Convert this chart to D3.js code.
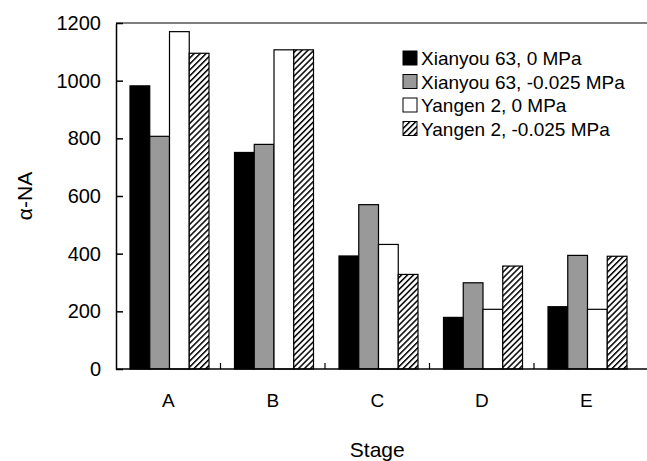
<!DOCTYPE html>
<html>
<head>
<meta charset="utf-8">
<script src="https://cdn.jsdelivr.net/npm/d3@7"></script>
<style>
  body { margin: 0; background: #fff; }
  text { font-family: "Liberation Sans", Arial, sans-serif; fill: #000; }
</style>
</head>
<body>
<div id="chart"></div>
<script>
const stages = ['A', 'B', 'C', 'D', 'E'];
const seriesNames = ['Xianyou 63, 0 MPa', 'Xianyou 63, -0.025 MPa', 'Yangen 2, 0 MPa', 'Yangen 2, -0.025 MPa'];
const xianyou0 = [982, 751, 392, 179, 216];
const xianyou025 = [807, 779, 570, 299, 394];
const yangen0 = [1170, 1107, 432, 207, 207];
const yangen025 = [1095, 1107, 328, 357, 391];
const yTicks = [0, 200, 400, 600, 800, 1000, 1200];

const width = 647, height = 461;
const margin = { top: 23, right: 8, bottom: 92, left: 116 };
const fills = ['#000', '#999', '#fff', 'url(#hatch)'];
const allSeries = [xianyou0, xianyou025, yangen0, yangen025];

const svg = d3.select('#chart').append('svg')
    .attr('width', width)
    .attr('height', height);

// hatch pattern for last series
const pat = svg.append('defs').append('pattern')
    .attr('id', 'hatch')
    .attr('patternUnits', 'userSpaceOnUse')
    .attr('width', 4.2)
    .attr('height', 4.2)
    .attr('patternTransform', 'rotate(45)');
pat.append('rect').attr('width', 4.2).attr('height', 4.2).attr('fill', '#fff');
pat.append('line')
    .attr('x1', 0).attr('y1', 0).attr('x2', 0).attr('y2', 4.2)
    .attr('stroke', '#000').attr('stroke-width', 3);

const plotW = 5 * 104.5;
const x = d3.scaleBand().domain(stages).range([margin.left, margin.left + plotW]).paddingInner(0).paddingOuter(0);
const xs = d3.scaleBand().domain(d3.range(4)).range([14, 14 + 79]);
const y = d3.scaleLinear().domain([0, 1200]).range([height - margin.bottom, margin.top]);

const groups = svg.selectAll('.grp')
    .data(stages)
    .enter()
    .append('g')
        .attr('class', 'grp')
        .attr('transform', d => 'translate(' + x(d) + ',0)');

groups.selectAll('rect')
    .data((d, i) => allSeries.map((s, k) => ({ k: k, v: s[i] })))
    .enter()
    .append('rect')
        .attr('x', d => xs(d.k))
        .attr('width', xs.bandwidth())
        .attr('y', d => y(d.v))
        .attr('height', d => y(0) - y(d.v))
        .attr('fill', d => fills[d.k])
        .attr('stroke', '#000')
        .attr('stroke-width', 1.2);

// y axis, ticks pointing inside
const yAxis = svg.append('g')
    .attr('transform', 'translate(' + margin.left + ',0)')
    .call(d3.axisRight(y).tickValues(yTicks).tickSize(7).tickSizeOuter(0).tickFormat(d3.format('d')));
yAxis.select('.domain').attr('stroke-width', 1.5);
yAxis.selectAll('.tick line').attr('stroke-width', 1.5);
yAxis.selectAll('text')
    .attr('x', -15)
    .attr('text-anchor', 'end')
    .style('font-size', '20px');

// x axis with category ticks at boundaries
const x0 = y(0);
svg.append('line')
    .attr('x1', margin.left).attr('x2', width)
    .attr('y1', x0).attr('y2', x0)
    .attr('stroke', '#000').attr('stroke-width', 1.5);
svg.append('line')
    .attr('x1', margin.left).attr('x2', width)
    .attr('y1', margin.top).attr('y2', margin.top)
    .attr('stroke', '#000').attr('stroke-width', 1.2);
svg.selectAll('.xtick')
    .data(stages.slice(1))
    .enter()
    .append('line')
        .attr('class', 'xtick')
        .attr('x1', d => x(d)).attr('x2', d => x(d))
        .attr('y1', x0).attr('y2', x0 - 6)
        .attr('stroke', '#000').attr('stroke-width', 1.2);
svg.selectAll('.xlab')
    .data(stages)
    .enter()
    .append('text')
        .attr('class', 'xlab')
        .attr('x', d => x(d) + x.bandwidth() / 2)
        .attr('y', x0 + 38)
        .attr('text-anchor', 'middle')
        .style('font-size', '19px')
        .text(d => d);

svg.append('text')
    .attr('x', x('C') + x.bandwidth() / 2)
    .attr('y', 457)
    .attr('text-anchor', 'middle')
    .style('font-size', '21px')
    .text('Stage');

svg.append('text')
    .attr('transform', 'translate(32,' + y(600) + ') rotate(-90)')
    .attr('text-anchor', 'middle')
    .style('font-size', '21px')
    .text('α-NA');

// legend
const legend = svg.selectAll('.leg')
    .data(seriesNames)
    .enter()
    .append('g')
        .attr('class', 'leg')
        .attr('transform', (d, i) => 'translate(403,' + (51 + i * 23.5) + ')');
legend.append('rect')
    .attr('width', 14).attr('height', 14)
    .attr('fill', (d, i) => fills[i])
    .attr('stroke', '#000').attr('stroke-width', 1);
legend.append('text')
    .attr('x', 18)
    .attr('y', 14)
    .style('font-size', '19px')
    .text(d => d);
</script>
</body>
</html>
